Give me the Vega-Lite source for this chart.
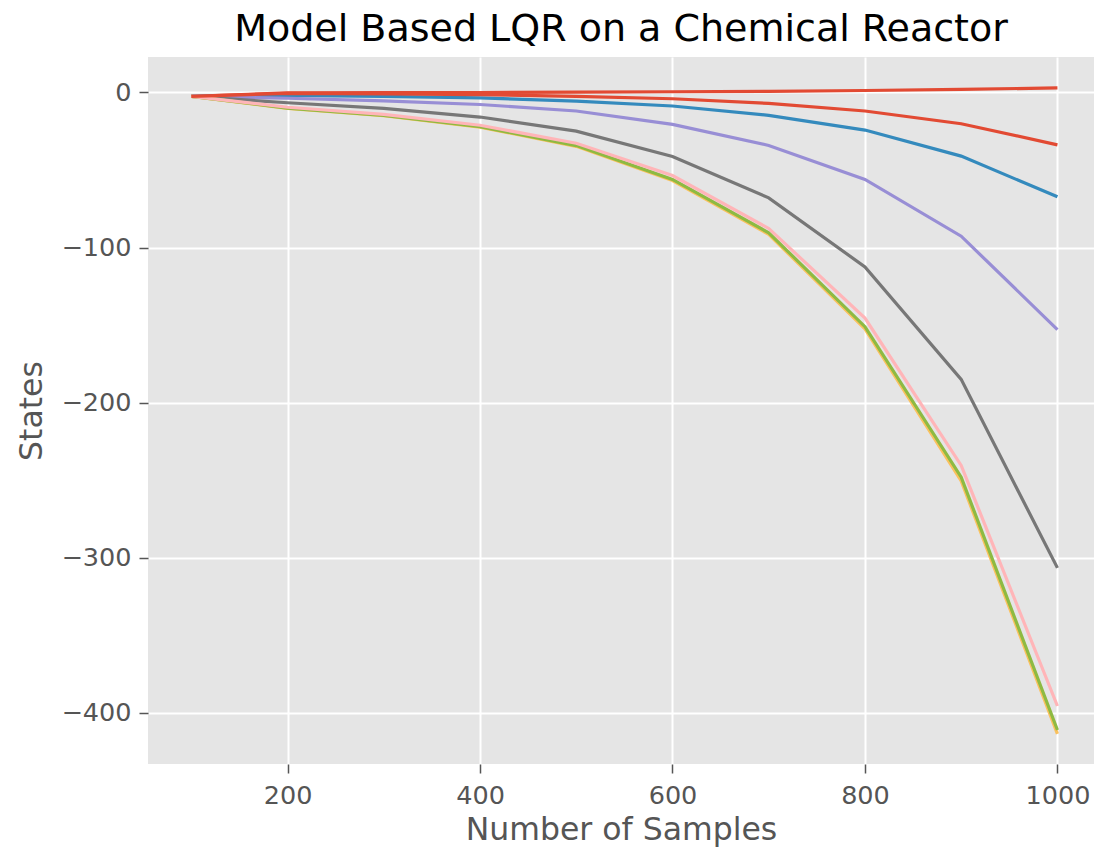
{
  "$schema": "https://vega.github.io/schema/vega-lite/v6.json",
  "width": 946,
  "height": 707,
  "autosize": {"type": "none"},
  "padding": {"left": 148, "top": 57, "right": 0, "bottom": 88},
  "background": "white",
  "title": {"text": "Model Based LQR on a Chemical Reactor", "font": "DejaVu Sans", "fontSize": 38, "fontWeight": "normal", "color": "black", "anchor": "middle", "offset": 8},
  "config": {
    "view": {"fill": "#E5E5E5", "stroke": null},
    "axis": {"labelFont": "DejaVu Sans", "titleFont": "DejaVu Sans", "labelFontSize": 25.5, "titleFontSize": 31.5, "labelColor": "#555555", "titleColor": "#555555", "titleFontWeight": "normal", "domain": false, "tickColor": "#555555", "tickSize": 9, "tickWidth": 1.5, "gridColor": "white", "gridWidth": 2}
  },
  "data": {"values": [
    {"n":100,"v":-2.6,"s":"s1"},{"n":200,"v":-0.3,"s":"s1"},{"n":300,"v":-0.2,"s":"s1"},{"n":400,"v":-0.1,"s":"s1"},{"n":500,"v":0.1,"s":"s1"},{"n":600,"v":0.4,"s":"s1"},{"n":700,"v":0.7,"s":"s1"},{"n":800,"v":1.2,"s":"s1"},{"n":900,"v":1.9,"s":"s1"},{"n":1000,"v":2.9,"s":"s1"},
    {"n":100,"v":-2.6,"s":"s2"},{"n":200,"v":-1.9,"s":"s2"},{"n":300,"v":-2.6,"s":"s2"},{"n":400,"v":-3.6,"s":"s2"},{"n":500,"v":-5.6,"s":"s2"},{"n":600,"v":-8.8,"s":"s2"},{"n":700,"v":-14.8,"s":"s2"},{"n":800,"v":-24.3,"s":"s2"},{"n":900,"v":-41.1,"s":"s2"},{"n":1000,"v":-67.3,"s":"s2"},
    {"n":100,"v":-2.6,"s":"s3"},{"n":200,"v":-3.8,"s":"s3"},{"n":300,"v":-5.5,"s":"s3"},{"n":400,"v":-7.8,"s":"s3"},{"n":500,"v":-12.0,"s":"s3"},{"n":600,"v":-20.6,"s":"s3"},{"n":700,"v":-34.2,"s":"s3"},{"n":800,"v":-56.1,"s":"s3"},{"n":900,"v":-92.7,"s":"s3"},{"n":1000,"v":-152.9,"s":"s3"},
    {"n":100,"v":-2.6,"s":"s4"},{"n":200,"v":-6.7,"s":"s4"},{"n":300,"v":-10.3,"s":"s4"},{"n":400,"v":-15.9,"s":"s4"},{"n":500,"v":-25.0,"s":"s4"},{"n":600,"v":-41.3,"s":"s4"},{"n":700,"v":-68.0,"s":"s4"},{"n":800,"v":-112.5,"s":"s4"},{"n":900,"v":-185.0,"s":"s4"},{"n":1000,"v":-306.5,"s":"s4"},
    {"n":100,"v":-2.6,"s":"s5"},{"n":200,"v":-10.3,"s":"s5"},{"n":300,"v":-15.0,"s":"s5"},{"n":400,"v":-22.4,"s":"s5"},{"n":500,"v":-34.8,"s":"s5"},{"n":600,"v":-56.8,"s":"s5"},{"n":700,"v":-91.5,"s":"s5"},{"n":800,"v":-152.5,"s":"s5"},{"n":900,"v":-250.5,"s":"s5"},{"n":1000,"v":-413.5,"s":"s5"},
    {"n":100,"v":-2.6,"s":"s6"},{"n":200,"v":-10.1,"s":"s6"},{"n":300,"v":-14.8,"s":"s6"},{"n":400,"v":-22.1,"s":"s6"},{"n":500,"v":-34.3,"s":"s6"},{"n":600,"v":-56.1,"s":"s6"},{"n":700,"v":-90.5,"s":"s6"},{"n":800,"v":-151.0,"s":"s6"},{"n":900,"v":-248.0,"s":"s6"},{"n":1000,"v":-411.0,"s":"s6"},
    {"n":100,"v":-2.6,"s":"s7"},{"n":200,"v":-9.6,"s":"s7"},{"n":300,"v":-14.2,"s":"s7"},{"n":400,"v":-21.2,"s":"s7"},{"n":500,"v":-32.8,"s":"s7"},{"n":600,"v":-53.6,"s":"s7"},{"n":700,"v":-87.7,"s":"s7"},{"n":800,"v":-145.5,"s":"s7"},{"n":900,"v":-240.5,"s":"s7"},{"n":1000,"v":-395.5,"s":"s7"},
    {"n":100,"v":-2.6,"s":"s8"},{"n":200,"v":-0.6,"s":"s8"},{"n":300,"v":-1.0,"s":"s8"},{"n":400,"v":-1.5,"s":"s8"},{"n":500,"v":-2.6,"s":"s8"},{"n":600,"v":-4.1,"s":"s8"},{"n":700,"v":-7.1,"s":"s8"},{"n":800,"v":-12.0,"s":"s8"},{"n":900,"v":-20.2,"s":"s8"},{"n":1000,"v":-33.8,"s":"s8"}
  ]},
  "mark": {"type": "line", "strokeWidth": 3.2, "clip": true},
  "encoding": {
    "x": {"field": "n", "type": "quantitative", "title": "Number of Samples", "scale": {"domain": [55, 1038], "nice": false, "zero": false}, "axis": {"values": [200, 400, 600, 800, 1000], "format": "d", "labelPadding": 10, "titlePadding": 6, "labelFlush": false}},
    "y": {"field": "v", "type": "quantitative", "title": "States", "scale": {"domain": [-432.9, 22.8], "nice": false, "zero": false}, "axis": {"values": [0, -100, -200, -300, -400], "labelExpr": "replace(format(datum.value, 'd'), '-', '\u2212')", "labelPadding": 8, "titlePadding": 12}},
    "color": {"field": "s", "type": "nominal", "legend": null, "scale": {"domain": ["s1","s2","s3","s4","s5","s6","s7","s8"], "range": ["#E24A33","#348ABD","#988ED5","#777777","#FBC15E","#8EBA42","#FFB5B8","#E24A33"]}}
  }
}
